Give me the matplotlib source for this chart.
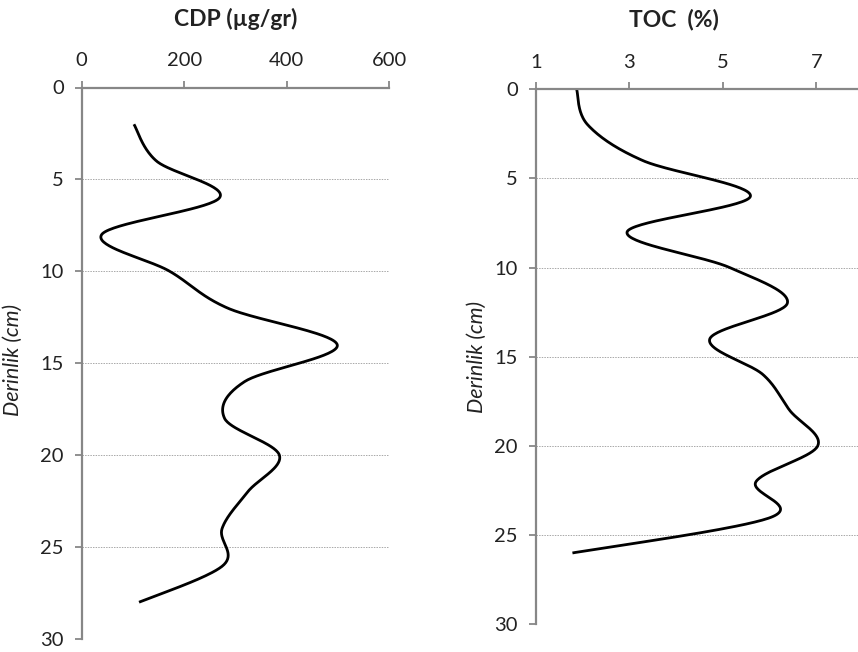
import numpy as np
import matplotlib
matplotlib.use('Agg')
from matplotlib import pyplot as plt

plt.rcParams['font.family'] = ['Lato', 'DejaVu Sans']

# derinlik (cm) ve ölçülen değerler
cdp_depth = [2, 4, 6, 8, 10, 12, 14, 16, 18, 20, 22, 24, 26, 28]
cdp_value = [102, 146, 269, 39, 172, 285, 499, 318, 279, 386, 324, 274, 276, 112]

toc_depth = [0, 2, 4, 6, 8, 10, 12, 14, 16, 18, 20, 22, 24, 26]
toc_value = [1.87, 2.11, 3.29, 5.59, 2.95, 5.15, 6.38, 4.72, 5.86, 6.43, 7.03, 5.71, 6.03, 1.78]

depth_ticks = [0, 5, 10, 15, 20, 25, 30]
cdp_ticks = [0, 200, 400, 600]
toc_ticks = [1, 3, 5, 7]

GRAY = '#878787'


def smooth(x, y, n=40):
    # Excel tarzı yumuşatılmış çizgi (Catmull-Rom / Bezier)
    p = np.column_stack([x, y]).astype(float)
    p = np.vstack([p[0], p, p[-1]])
    out = []
    t = np.linspace(0, 1, n)[:, None]
    for i in range(1, len(p) - 2):
        p0, p1, p2, p3 = p[i - 1], p[i], p[i + 1], p[i + 2]
        c1 = p1 + (p2 - p0) / 6
        c2 = p2 - (p3 - p1) / 6
        seg = ((1 - t) ** 3) * p1 + 3 * ((1 - t) ** 2) * t * c1 + 3 * (1 - t) * t ** 2 * c2 + t ** 3 * p2
        out.append(seg)
    out = np.vstack(out)
    return out[:, 0], out[:, 1]


def style_axis(ax, xticks, xlim):
    ax.set_ylim(30, 0)
    ax.set_xlim(*xlim)
    ax.set_yticks(depth_ticks)
    ax.set_xticks(xticks)
    ax.xaxis.tick_top()
    for s in ['right', 'bottom']:
        ax.spines[s].set_visible(False)
    for s in ['top', 'left']:
        ax.spines[s].set_color(GRAY)
        ax.spines[s].set_linewidth(1.6)
    ax.tick_params(axis='both', colors=GRAY, width=1.3, length=5, labelsize=14.5,
                   labelcolor='#222222', direction='out')
    ax.tick_params(axis='x', pad=8)
    ax.tick_params(axis='y', pad=8)
    for d in depth_ticks[1:]:
        ax.axhline(d, color='#a8a8a8', lw=0.7, ls=(0, (1.5, 1.2)), zorder=0)
    ax.set_ylabel('Derinlik (cm)', fontsize=15.5, style='italic', color='#222222')


W, H = 858, 652
fig = plt.figure(figsize=(W / 100, H / 100), dpi=100)

ax1 = fig.add_axes([81.7 / W, 1 - 639 / H, (389 - 81.7) / W, (639 - 87.5) / H])
xs, ys = smooth(cdp_value, cdp_depth)
ax1.plot(xs, ys, color='black', lw=2.0, solid_capstyle='butt')
style_axis(ax1, cdp_ticks, (0, 600))
ax1.yaxis.set_label_coords(-0.19, 0.506)

ax2 = fig.add_axes([536 / W, 1 - 624.3 / H, (863 - 536) / W, (624.3 - 89.3) / H])
xs, ys = smooth(toc_value, toc_depth)
ax2.plot(xs, ys, color='black', lw=2.0, solid_capstyle='butt')
style_axis(ax2, toc_ticks, (1, 8))
ax2.yaxis.set_label_coords(-0.15, 0.5)

fig.text(236 / W, 1 - 19 / H, 'CDP (µg/gr)', ha='center', va='center',
         fontsize=16.5, fontweight='bold', color='#222222')
fig.text(674 / W, 1 - 19 / H, 'TOC  (%)', ha='center', va='center',
         fontsize=16.5, fontweight='bold', color='#222222')

fig.savefig('out.png', dpi=100)
